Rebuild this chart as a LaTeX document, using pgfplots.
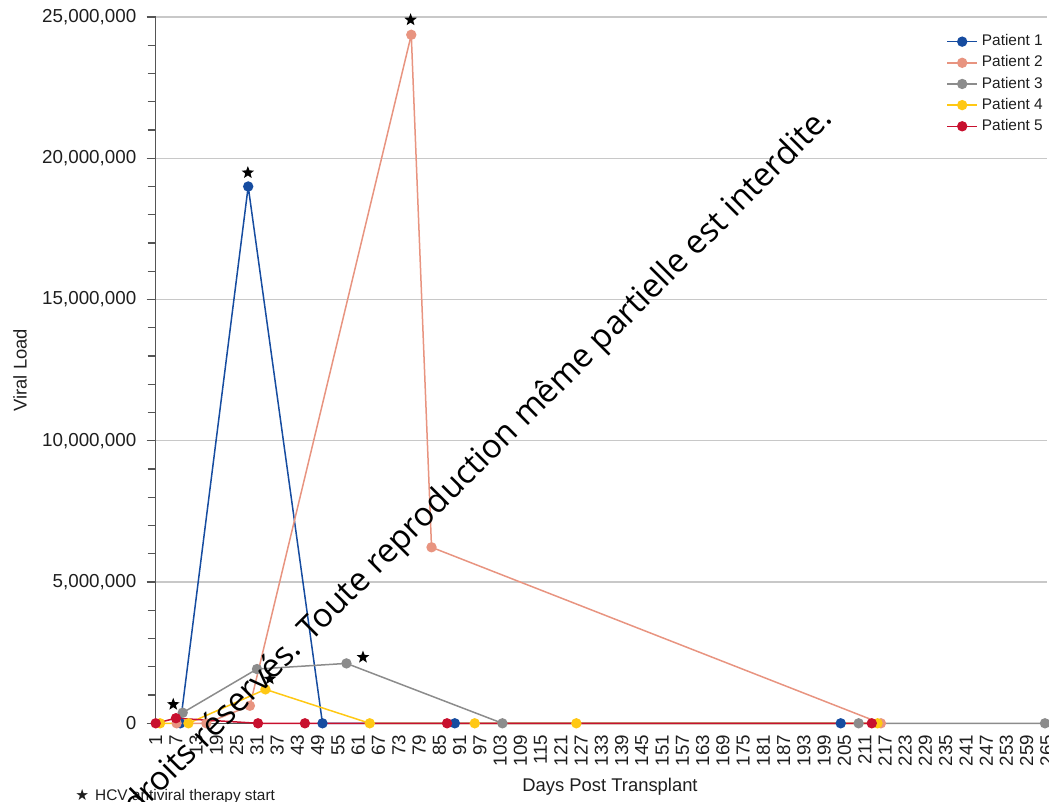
\documentclass[border=0pt]{standalone}
\usepackage{fontspec}
\setmainfont{Liberation Sans}
\newfontfamily\symfont{DejaVu Sans}
\newfontfamily\wmfont{Open Sans}
\usepackage{pgfplots}
\pgfplotsset{compat=1.18}

\definecolor{pOne}{RGB}{22,76,160}
\definecolor{pTwo}{RGB}{232,148,128}
\definecolor{pThree}{RGB}{140,140,140}
\definecolor{pFour}{RGB}{255,200,20}
\definecolor{pFive}{RGB}{200,16,46}
\definecolor{axisgrey}{RGB}{85,85,85}
\definecolor{gridgrey}{RGB}{200,200,200}
\definecolor{labelgrey}{RGB}{30,30,30}

% filled five-pointed star used for therapy start
\pgfdeclareplotmark{fstar}{%
  \pgfpathmoveto{\pgfpointpolar{90}{\pgfplotmarksize}}%
  \pgfpathlineto{\pgfpointpolar{126}{0.42\pgfplotmarksize}}%
  \pgfpathlineto{\pgfpointpolar{162}{\pgfplotmarksize}}%
  \pgfpathlineto{\pgfpointpolar{198}{0.42\pgfplotmarksize}}%
  \pgfpathlineto{\pgfpointpolar{234}{\pgfplotmarksize}}%
  \pgfpathlineto{\pgfpointpolar{270}{0.42\pgfplotmarksize}}%
  \pgfpathlineto{\pgfpointpolar{306}{\pgfplotmarksize}}%
  \pgfpathlineto{\pgfpointpolar{342}{0.42\pgfplotmarksize}}%
  \pgfpathlineto{\pgfpointpolar{18}{\pgfplotmarksize}}%
  \pgfpathlineto{\pgfpointpolar{54}{0.42\pgfplotmarksize}}%
  \pgfpathclose
  \pgfusepathqfill
}

\begin{document}
\begin{tikzpicture}
\begin{axis}[
  scale only axis,
  width=445.65pt, height=353.15pt,
  xmin=1, xmax=265, ymin=0, ymax=25000000,
  axis x line=bottom, axis y line=left,
  axis line style={-, draw=axisgrey, line width=0.6pt},
  xtick={1,7,...,265},
  ytick={0,5000000,...,25000000},
  minor y tick num=4,
  ymajorgrids,
  major grid style={draw=gridgrey, line width=0.6pt},
  scaled y ticks=false,
  /pgf/number format/assume math mode=true,
  /pgf/number format/fixed,
  /pgf/number format/precision=0,
  /pgf/number format/1000 sep={,},
  tick label style={font=\fontsize{9.4}{11}\selectfont, text=labelgrey},
  tick align=outside,
  major tick length=4.5pt, minor tick length=4pt,
  y tick style={draw=axisgrey, line width=0.6pt},
  x tick style={draw=none},
  x tick label style={rotate=90, anchor=east, inner sep=0pt},
  xticklabel shift=1pt,
  y tick label style={anchor=east, inner sep=0pt},
  yticklabel shift=5pt,
  xlabel={Days Post Transplant},
  ylabel={Viral Load},
  label style={font=\fontsize{9.2}{11}\selectfont, text=labelgrey},
  xlabel style={at={(axis description cs:0.5097,-0.0895)}, anchor=center},
  ylabel style={at={(axis description cs:-0.1523,0.5)}, anchor=center},
  legend style={draw=none, fill=none, at={(axis description cs:0.880,0.987)},
    anchor=north west, font=\fontsize{7.7}{9}\selectfont, text=labelgrey,
    row sep=-0.5pt},
  legend cell align=left,
  legend image code/.code={%
    \draw[mark repeat=2, mark phase=2] plot coordinates {(0pt,0pt) (7.5pt,0pt) (15pt,0pt)};},
  every axis plot/.append style={line width=0.75pt, mark=*, mark size=2.2pt},
  clip=false,
]
\addplot[color=pOne, mark options={fill=pOne, draw=pOne}] coordinates {
  (8.3,0) (28.4,19000000) (50.4,0) (89.6,0) (203.9,0)};
\addlegendentry{Patient 1}
\addplot[color=pTwo, mark options={fill=pTwo, draw=pTwo}] coordinates {
  (7.2,0) (16,0) (28.9,620000) (76.7,24370000) (82.7,6230000) (215.8,0)};
\addlegendentry{Patient 2}
\addplot[color=pThree, mark options={fill=pThree, draw=pThree}] coordinates {
  (9,375000) (31,1920000) (57.5,2120000) (103.7,0) (209.2,0) (264.4,0)};
\addlegendentry{Patient 3}
\addplot[color=pFour, mark options={fill=pFour, draw=pFour}] coordinates {
  (2.3,0) (10.7,0) (33.5,1200000) (64.4,0) (95.5,0) (125.6,0) (214.8,0)};
\addlegendentry{Patient 4}
\addplot[color=pFive, mark options={fill=pFive, draw=pFive}] coordinates {
  (1,0) (7,180000) (31.3,0) (45.2,0) (87.3,0) (213.1,0)};
\addlegendentry{Patient 5}
% HCV antiviral therapy start
\addplot[only marks, mark=fstar, mark size=3.3pt, black, forget plot] coordinates {
  (6.2,670000) (28.3,19490000) (76.5,24900000) (62.4,2340000) (34.8,1570000)};
\node[anchor=west, inner sep=0pt, font=\fontsize{7.7}{9}\selectfont, text=labelgrey]
  at (axis description cs:-0.0905,-0.104) {{\symfont ★}\hspace{3pt}HCV antiviral therapy start};
\end{axis}
\node[anchor=base east, rotate=45, inner sep=0pt, font=\wmfont\fontsize{16.5}{19}\selectfont]
  at (339.2pt,301.6pt) {Tous droits réservés. Toute reproduction même partielle est interdite.};
\pgfresetboundingbox
\useasboundingbox (-77.85pt,-39.35pt) rectangle (446.65pt,361.65pt);
\end{tikzpicture}
\end{document}
